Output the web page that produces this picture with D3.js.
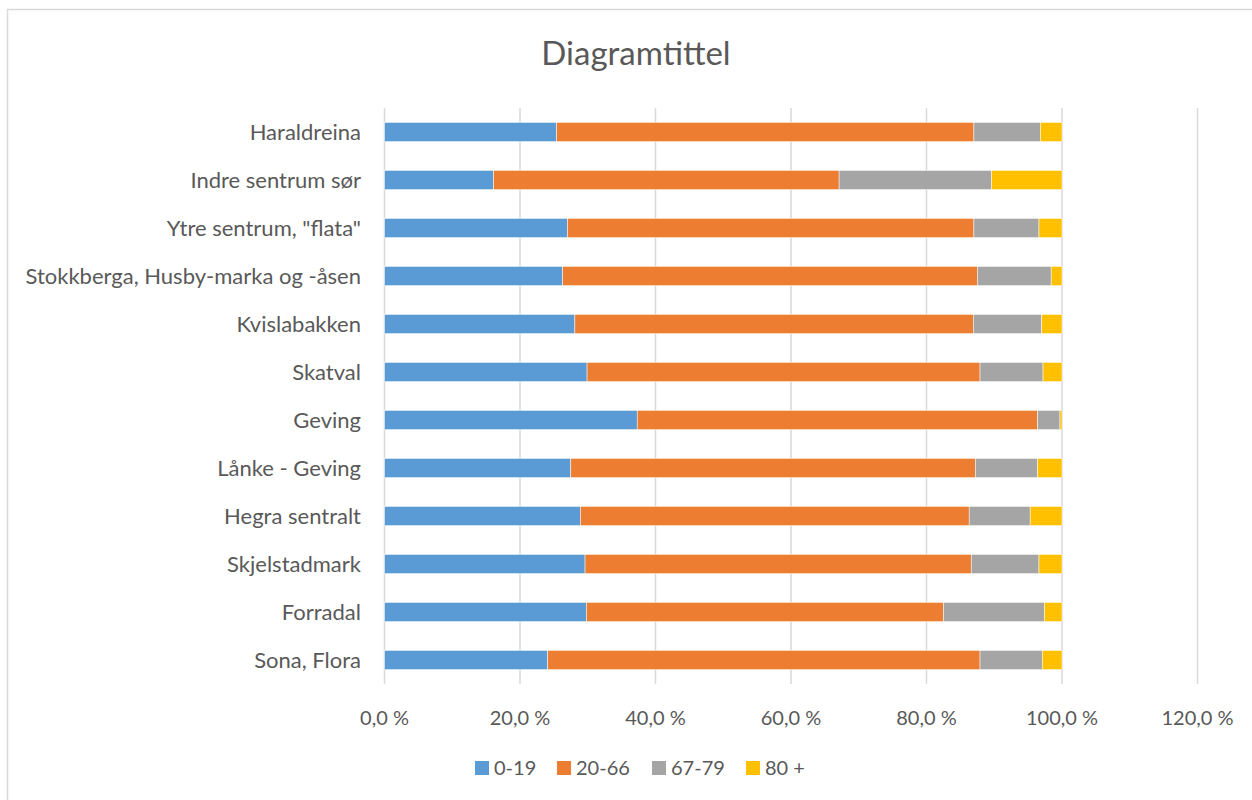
<!DOCTYPE html>
<html>
<head>
<meta charset="utf-8">
<script src="https://cdn.jsdelivr.net/npm/d3@7"></script>
<style>
  body { margin: 0; background: #fff; }
  svg text { font-family: Lato, "Open Sans", sans-serif; fill: #595959; }
</style>
</head>
<body>
<div id="chart"></div>
<script>
// omraader, fra topp til bunn
var areas = ["Haraldreina", "Indre sentrum sør", "Ytre sentrum, \"flata\"",
    "Stokkberga, Husby-marka og -åsen", "Kvislabakken", "Skatval", "Geving",
    "Lånke - Geving", "Hegra sentralt", "Skjelstadmark", "Forradal", "Sona, Flora"];

var ageGroups = ["0-19", "20-66", "67-79", "80 +"];

var age0_19  = [25.4, 16.1, 27.0, 26.3, 28.1, 29.9, 37.3, 27.5, 28.9, 29.6, 29.8, 24.1];
var age20_66 = [61.6, 51.0, 60.0, 61.2, 58.8, 58.0, 59.1, 59.7, 57.4, 57.0, 52.7, 63.8];
var age67_79 = [ 9.8, 22.5,  9.6, 10.9, 10.1,  9.3,  3.3,  9.2,  9.0, 10.0, 14.9,  9.2];
var age80    = [ 3.2, 10.4,  3.4,  1.6,  3.0,  2.8,  0.3,  3.6,  4.7,  3.4,  2.6,  2.9];

var xTicks = [0, 20, 40, 60, 80, 100, 120];

var colors = ["#5b9bd5", "#ed7d31", "#a5a5a5", "#ffc000"];

var width = 1252, height = 800;
var margin = {top: 108, right: 54, bottom: 116, left: 384.5};

var rows = areas.map(function(a, i) {
    return {area: a, "0-19": age0_19[i], "20-66": age20_66[i], "67-79": age67_79[i], "80 +": age80[i]};
});

var svg = d3.select("#chart").append("svg")
    .attr("width", width)
    .attr("height", height);

svg.append("rect")
    .attr("x", 7.5).attr("y", 9.5)
    .attr("width", 1300).attr("height", 900)
    .attr("fill", "#fff")
    .attr("stroke", "#d9d9d9")
    .attr("stroke-width", 1.5);

var x = d3.scaleLinear()
    .domain([0, 120])
    .range([margin.left, margin.left + 6.775 * 120]);

var y = d3.scaleBand()
    .domain(areas)
    .range([margin.top, height - margin.bottom])
    .paddingInner(0.6)
    .paddingOuter(0.3);

// gridlines
svg.append("g")
    .selectAll("line")
    .data(xTicks)
    .enter().append("line")
    .attr("x1", function(d) { return x(d); })
    .attr("x2", function(d) { return x(d); })
    .attr("y1", margin.top)
    .attr("y2", height - margin.bottom)
    .attr("stroke", "#d9d9d9")
    .attr("stroke-width", 1.5);

var stack = d3.stack().keys(ageGroups);
var series = stack(rows);

svg.append("g")
    .selectAll("g")
    .data(series)
    .enter().append("g")
    .attr("fill", function(d, i) { return colors[i]; })
    .selectAll("rect")
    .data(function(d) { return d; })
    .enter().append("rect")
    .attr("x", function(d) { return x(d[0]); })
    .attr("width", function(d) { return x(d[1]) - x(d[0]); })
    .attr("y", function(d) { return y(d.data.area); })
    .attr("height", y.bandwidth())
    .attr("stroke", "#fff")
    .attr("stroke-width", 0.5);

// x axis labels
var fmt = function(d) { return d3.format(".1f")(d).replace(".", ",") + " %"; };
svg.append("g")
    .selectAll("text")
    .data(xTicks)
    .enter().append("text")
    .attr("x", function(d) { return x(d); })
    .attr("y", 725)
    .attr("text-anchor", "middle")
    .style("font-size", "20px")
    .text(fmt);

// category labels
svg.append("g")
    .selectAll("text")
    .data(areas)
    .enter().append("text")
    .attr("x", 361)
    .attr("y", function(d) { return y(d) + y.bandwidth() / 2; })
    .attr("dy", "0.36em")
    .attr("text-anchor", "end")
    .style("font-size", "22px")
    .text(function(d) { return d; });

// title
svg.append("text")
    .attr("x", 636)
    .attr("y", 65)
    .attr("text-anchor", "middle")
    .style("font-size", "33px")
    .text("Diagramtittel");

// legend
var legendX = [475, 557, 652, 746];
var legend = svg.append("g")
    .selectAll("g")
    .data(ageGroups)
    .enter().append("g")
    .attr("transform", function(d, i) { return "translate(" + legendX[i] + ",761)"; });

legend.append("rect")
    .attr("width", 14).attr("height", 14)
    .attr("fill", function(d, i) { return colors[i]; });

legend.append("text")
    .attr("x", 19)
    .attr("y", 14)
    .style("font-size", "20px")
    .text(function(d) { return d; });
</script>
</body>
</html>
